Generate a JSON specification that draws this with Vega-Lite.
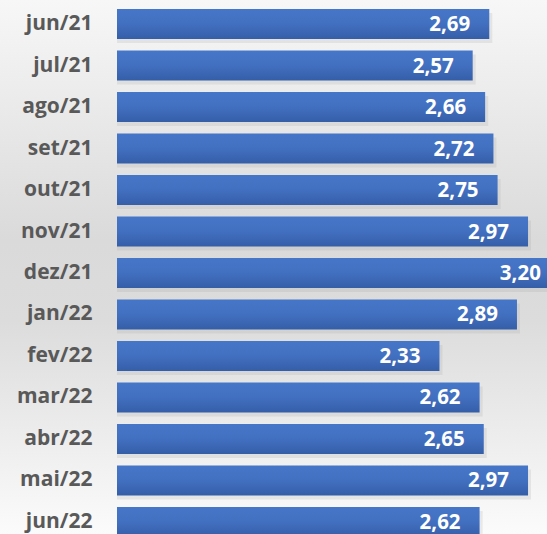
{
  "$schema": "https://vega.github.io/schema/vega-lite/v6.json",
  "width": 547,
  "height": 534,
  "autosize": {"type": "fit", "contains": "padding"},
  "padding": 0,
  "background": "#e6e6e6",
  "config": {
    "view": {
      "stroke": null,
      "fill": {
        "gradient": "linear",
        "x1": 0, "y1": 0, "x2": 0, "y2": 1,
        "stops": [
          {"offset": 0, "color": "#f7f7f7"},
          {"offset": 0.45, "color": "#dadada"},
          {"offset": 0.6, "color": "#dcdcdc"},
          {"offset": 1, "color": "#fbfbfb"}
        ]
      }
    },
    "locale": {
      "number": {"decimal": ",", "thousands": ".", "grouping": [3], "currency": ["R$", ""]}
    }
  },
  "data": {
    "values": [
      {"mes": "jun/21", "valor": 2.69},
      {"mes": "jul/21", "valor": 2.57},
      {"mes": "ago/21", "valor": 2.66},
      {"mes": "set/21", "valor": 2.72},
      {"mes": "out/21", "valor": 2.75},
      {"mes": "nov/21", "valor": 2.97},
      {"mes": "dez/21", "valor": 3.20},
      {"mes": "jan/22", "valor": 2.89},
      {"mes": "fev/22", "valor": 2.33},
      {"mes": "mar/22", "valor": 2.62},
      {"mes": "abr/22", "valor": 2.65},
      {"mes": "mai/22", "valor": 2.97},
      {"mes": "jun/22", "valor": 2.62}
    ]
  },
  "encoding": {
    "y": {
      "field": "mes",
      "type": "nominal",
      "sort": null,
      "scale": {"range": [9, 537], "paddingInner": 0.277, "paddingOuter": 0},
      "axis": {
        "title": null,
        "domain": false,
        "ticks": false,
        "tickSize": 0,
        "labelPadding": 0,
        "offset": -92,
        "labelFont": "Open Sans",
        "labelFontWeight": "bold",
        "labelFontSize": 21,
        "labelColor": "#595959",
        "grid": false
      }
    },
    "x": {
      "field": "valor",
      "type": "quantitative",
      "scale": {"domain": [-0.8454, 3.107], "nice": false, "zero": false},
      "axis": null
    }
  },
  "layer": [
    {
      "mark": {"type": "bar", "clip": true, "color": "#9a9a9a", "opacity": 0.18, "xOffset": 3, "yOffset": 4},
      "encoding": {"x2": {"datum": 0}}
    },
    {
      "mark": {
        "type": "bar",
        "clip": true,
        "color": {
          "gradient": "linear",
          "x1": 0, "y1": 0, "x2": 0, "y2": 1,
          "stops": [
            {"offset": 0, "color": "#4676c8"},
            {"offset": 0.45, "color": "#4371c2"},
            {"offset": 1, "color": "#355ea8"}
          ]
        }
      },
      "encoding": {"x2": {"datum": 0}}
    },
    {
      "mark": {
        "type": "text",
        "align": "right",
        "baseline": "middle",
        "dx": -19,
        "dy": 1,
        "font": "Open Sans",
        "fontWeight": "bold",
        "fontSize": 20.5,
        "color": "#ffffff"
      },
      "encoding": {
        "text": {"field": "valor", "type": "quantitative", "format": ".2f"}
      }
    }
  ]
}
